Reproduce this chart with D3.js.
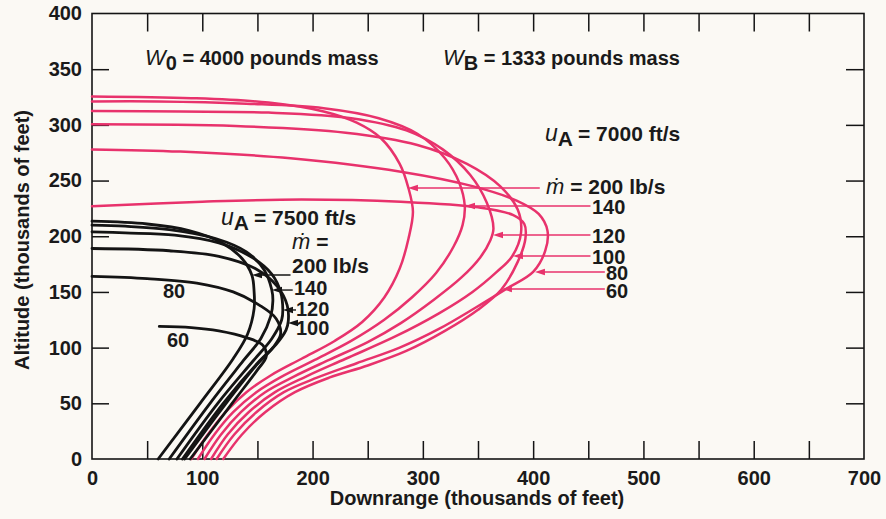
<!DOCTYPE html>
<html>
<head>
<meta charset="utf-8">
<script src="https://cdn.jsdelivr.net/npm/d3@7"></script>
<style>
  html, body { margin: 0; padding: 0; background: #fbf9f4; }
  svg { display: block; }
  text { font-family: "Liberation Sans", Arial, Helvetica, sans-serif; fill: #1a1a1a; }
</style>
</head>
<body>
<svg id="chart" width="886" height="519"></svg>
<script>
// Trajectories: downrange (thousands of feet) vs altitude (thousands of feet)
const xTickLabels = [0, 100, 200, 300, 400, 500, 600, 700];
const yTickLabels = [0, 50, 100, 150, 200, 250, 300, 350, 400];
const xMinorTicks = [50, 100, 150, 200, 250, 300, 350, 400, 450, 500, 550, 600, 650];
const yMinorTicks = [50, 100, 150, 200, 250, 300, 350];

// u_A = 7000 ft/s, one trajectory per propellant mass flow rate (lb/s)
const ua7000Rates = ["200", "140", "120", "100", "80", "60"];
const ua7000_200 = [[90,0],[105,22],[121,42],[140,60],[162,75],[190,90],[220,106],[245,123],[265,145],[279,171],[287,198],[291,222],[287,243],[279,265],[262,288],[240,302],[210,312],[160,320],[90,324],[0,325.5]];
const ua7000_140 = [[96,0],[111,22],[128,42],[149,60],[172,74],[202,89],[235,106],[265,125],[290,145],[312,167],[328,191],[336,210],[338,227],[333,248],[320,270],[295,292],[260,306],[210,315],[140,319],[60,321],[0,321]];
const ua7000_120 = [[102,0],[117,22],[135,42],[157,60],[183,74],[215,89],[250,105],[280,122],[310,143],[335,163],[352,181],[361,196],[364,207],[358,230],[343,255],[318,278],[285,295],[235,306],[160,311],[80,312],[0,312.5]];
const ua7000_100 = [[108,0],[123,22],[142,42],[166,60],[194,74],[230,90],[275,110],[315,131],[345,150],[367,168],[381,182],[389,203],[386,224],[370,245],[340,265],[295,282],[230,293],[130,299],[0,300.5]];
const ua7000_80  = [[113,0],[129,22],[149,42],[174,60],[204,73],[240,86],[279,100],[315,117],[348,136],[376,153],[400,168],[411,187],[413,205],[405,220],[385,232],[345,245],[280,258],[180,270],[80,276],[0,278]];
const ua7000_60  = [[119,0],[136,22],[157,42],[184,60],[215,73],[250,84],[285,97],[320,115],[350,134],[371,152],[386,177],[393,198],[392,211],[382,219],[350,226],[280,231],[190,233],[100,231],[0,227]];

// u_A = 7500 ft/s
const ua7500Rates = ["200", "140", "120", "100", "80", "60"];
const ua7500_200 = [[60,0],[98,50],[128,90],[141,112],[147,135],[147,150],[145,165],[136,180],[118,194],[88,205],[50,211],[0,213.5]];
const ua7500_140 = [[70,0],[107,50],[137,88],[153,108],[162,128],[164,142],[163,152],[156,170],[140,186],[112,198],[70,206],[30,209],[0,210]];
const ua7500_120 = [[77,0],[114,50],[146,88],[163,108],[172,125],[173,134],[171,150],[163,166],[145,181],[115,194],[75,201],[30,203],[0,204]];
const ua7500_100 = [[82,0],[119,50],[150,86],[167,103],[176,116],[178,124],[177,138],[168,155],[148,171],[115,182],[70,187],[0,189]];
const ua7500_80  = [[84,0],[120,48],[148,83],[164,100],[171,112],[167,126],[152,138],[128,150],[95,158],[50,162],[0,164]];
const ua7500_60  = [[89,0],[127,50],[150,80],[158,92],[155,102],[140,109],[115,115],[90,118],[61,119]];

// Leader lines: label end (data units) and arrow tip on the curve
const ua7000Leaders = [
  { label: "200", tip: [286.5, 243.3], from: [406, 243.3] },
  { label: "140", tip: [338.2, 227.2], from: [452, 227.2] },
  { label: "120", tip: [363.6, 201.1], from: [452, 201.1] },
  { label: "100", tip: [381.7, 182.3], from: [452, 182.3] },
  { label: "80",  tip: [401.6, 167.9], from: [465, 167.9] },
  { label: "60",  tip: [371.7, 152.6], from: [465, 152.6] }
];
const ua7500Leaders = [
  { label: "200", tip: [145.1, 165.2], from: [180, 165.2] },
  { label: "140", tip: [163.2, 151.7], from: [182, 151.7] },
  { label: "120", tip: [173.2, 133.8], from: [185, 133.8] },
  { label: "100", tip: [177.7, 122.1], from: [187, 122.1] }
];

const PINK = "#e8326c";
const INK = "#141414";
const FS = 21;
const FS_NUM = 20;

const svg = d3.select("#chart");
const width = 886, height = 519;
svg.append("rect").attr("width", width).attr("height", height).attr("fill", "#fbf9f4");

const x = d3.scaleLinear().domain([0, 700]).range([92, 864]);
const y = d3.scaleLinear().domain([0, 400]).range([459, 13.5]);

// Frame
svg.append("rect")
  .attr("x", x(0)).attr("y", y(400))
  .attr("width", x(700) - x(0)).attr("height", y(0) - y(400))
  .attr("fill", "none").attr("stroke", INK).attr("stroke-width", 1.6);

// Inward ticks on all four sides
const tickLen = 18;
function styleTicks(g) {
  g.select(".domain").remove();
  g.selectAll(".tick line").attr("stroke", INK).attr("stroke-width", 1.5);
  g.selectAll(".tick text").remove();
}
svg.append("g").attr("transform", `translate(0,${y(0)})`)
  .call(d3.axisBottom(x).tickValues(xMinorTicks).tickSize(-tickLen)).call(styleTicks);
svg.append("g").attr("transform", `translate(0,${y(400)})`)
  .call(d3.axisTop(x).tickValues(xMinorTicks).tickSize(-tickLen)).call(styleTicks);
svg.append("g").attr("transform", `translate(${x(0)},0)`)
  .call(d3.axisLeft(y).tickValues(yMinorTicks).tickSize(-tickLen + 1)).call(styleTicks);
svg.append("g").attr("transform", `translate(${x(700)},0)`)
  .call(d3.axisRight(y).tickValues(yMinorTicks).tickSize(-tickLen)).call(styleTicks);

// Tick labels
function styleLabels(g) {
  g.select(".domain").remove();
  g.selectAll(".tick line").remove();
  g.selectAll(".tick text")
    .attr("font-family", "'Liberation Sans', Arial, sans-serif")
    .attr("font-size", 20).attr("font-weight", "bold").attr("fill", INK);
}
svg.append("g").attr("transform", `translate(0,${y(0)})`)
  .call(d3.axisBottom(x).tickValues(xTickLabels).tickSize(0).tickPadding(12)).call(styleLabels);
svg.append("g").attr("transform", `translate(${x(0)},0)`)
  .call(d3.axisLeft(y).tickValues(yTickLabels).tickSize(0).tickPadding(10)).call(styleLabels);

// Axis titles
svg.append("text")
  .attr("x", 477).attr("y", 505).attr("text-anchor", "middle")
  .attr("font-size", 20).attr("font-weight", "bold")
  .text("Downrange (thousands of feet)");
svg.append("text")
  .attr("transform", "translate(29,240) rotate(-90)").attr("text-anchor", "middle")
  .attr("font-size", 20).attr("font-weight", "bold")
  .text("Altitude (thousands of feet)");

// Curves
const line = d3.line()
  .x(d => x(d[0])).y(d => y(d[1]))
  .curve(d3.curveCatmullRom.alpha(0.5));

const ua7000Series = [ua7000_200, ua7000_140, ua7000_120, ua7000_100, ua7000_80, ua7000_60];
const ua7500Series = [ua7500_200, ua7500_140, ua7500_120, ua7500_100, ua7500_80, ua7500_60];

svg.append("g").selectAll("path").data(ua7000Series).join("path")
  .attr("d", line).attr("fill", "none").attr("stroke", PINK)
  .attr("stroke-width", 2.5).attr("stroke-linejoin", "round").attr("stroke-linecap", "round")
  .attr("data-rate", (d, i) => ua7000Rates[i]);

svg.append("g").selectAll("path").data(ua7500Series).join("path")
  .attr("d", line).attr("fill", "none").attr("stroke", INK)
  .attr("stroke-width", 2.8).attr("stroke-linejoin", "round").attr("stroke-linecap", "round")
  .attr("data-rate", (d, i) => ua7500Rates[i]);

// Leader lines with arrowheads
function drawLeaders(list, color) {
  const g = svg.append("g");
  list.forEach(l => {
    const x0 = x(l.from[0]), y0 = y(l.from[1]);
    const x1 = x(l.tip[0]), y1 = y(l.tip[1]);
    g.append("line").attr("x1", x0).attr("y1", y0).attr("x2", x1 + 6).attr("y2", y1)
      .attr("stroke", color).attr("stroke-width", 1.4);
    g.append("path")
      .attr("d", `M${x1},${y1} L${x1 + 10},${y1 - 3.2} L${x1 + 10},${y1 + 3.2} Z`)
      .attr("fill", color);
  });
}
drawLeaders(ua7000Leaders, PINK);
drawLeaders(ua7500Leaders, INK);

// Pink rate labels
const pinkLabelPos = { "140": [592, 214], "120": [592, 243], "100": [592, 264], "80": [606, 280], "60": [606, 298] };
Object.entries(pinkLabelPos).forEach(([k, p]) => {
  svg.append("text").attr("x", p[0]).attr("y", p[1])
    .attr("font-size", FS_NUM).attr("font-weight", "bold").attr("fill", PINK).text(k);
});
// ṁ = 200 lb/s (pink)
{
  const t = svg.append("text").attr("x", 546).attr("y", 194).attr("font-size", FS).attr("font-weight", "bold").attr("fill", PINK);
  t.append("tspan").attr("font-style", "italic").attr("font-weight", "normal").attr("font-size", 22).text("ṁ");
  t.append("tspan").text(" = 200 lb/s");
}
// u_A = 7000 ft/s (pink)
{
  const t = svg.append("text").attr("x", 545).attr("y", 141).attr("font-size", FS).attr("font-weight", "bold").attr("fill", PINK);
  t.append("tspan").attr("font-style", "italic").attr("font-weight", "normal").attr("font-size", 23).text("u");
  t.append("tspan").attr("dy", 5).text("A");
  t.append("tspan").attr("dy", -5).text(" = 7000 ft/s");
}

// Black labels
{
  const t = svg.append("text").attr("x", 221).attr("y", 225).attr("font-size", FS).attr("font-weight", "bold").attr("fill", INK);
  t.append("tspan").attr("font-style", "italic").attr("font-weight", "normal").attr("font-size", 23).text("u");
  t.append("tspan").attr("dy", 5).text("A");
  t.append("tspan").attr("dy", -5).text(" = 7500 ft/s");
}
{
  const t = svg.append("text").attr("x", 292).attr("y", 249).attr("font-size", FS).attr("font-weight", "bold").attr("fill", INK);
  t.append("tspan").attr("font-style", "italic").attr("font-weight", "normal").attr("font-size", 22).text("ṁ");
  t.append("tspan").text(" =");
}
const blackLabelPos = { "200 lb/s": [292, 273], "140": [294, 295], "120": [296, 316], "100": [296, 335], "80": [163, 298], "60": [167, 347] };
Object.entries(blackLabelPos).forEach(([k, p]) => {
  svg.append("text").attr("x", p[0]).attr("y", p[1])
    .attr("font-size", k === "200 lb/s" ? FS : FS_NUM).attr("font-weight", "bold").attr("fill", INK).text(k);
});

// Mass annotations
{
  const t = svg.append("text").attr("x", 145).attr("y", 65).attr("font-size", 20).attr("font-weight", "bold").attr("fill", INK);
  t.append("tspan").attr("font-style", "italic").attr("font-weight", "normal").attr("font-size", 22).text("W");
  t.append("tspan").attr("dy", 5).text("0");
  t.append("tspan").attr("dy", -5).text(" = 4000 pounds mass");
}
{
  const t = svg.append("text").attr("x", 443).attr("y", 65).attr("font-size", 20).attr("font-weight", "bold").attr("fill", INK);
  t.append("tspan").attr("font-style", "italic").attr("font-weight", "normal").attr("font-size", 22).text("W");
  t.append("tspan").attr("dy", 5).text("B");
  t.append("tspan").attr("dy", -5).text(" = 1333 pounds mass");
}
</script>
</body>
</html>
